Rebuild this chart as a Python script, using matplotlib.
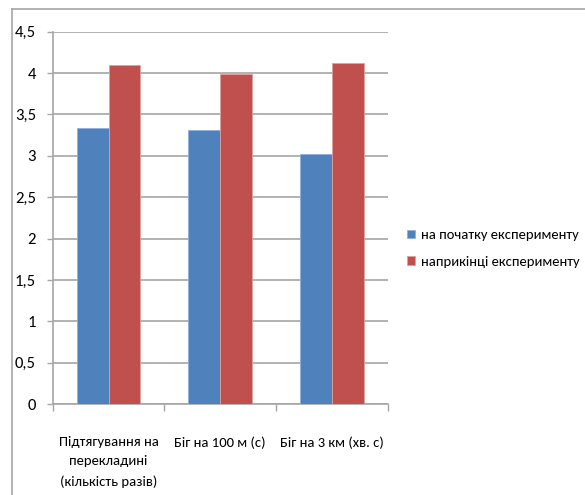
import matplotlib
matplotlib.use("Agg")
import matplotlib.pyplot as plt
import numpy as np
from matplotlib.lines import Line2D
from matplotlib.ticker import FuncFormatter
from matplotlib import font_manager

categories = ["Підтягування на\nперекладині\n(кількість разів)", "Біг на 100 м (с)", "Біг на 3 км (хв. с)"]
series_names = ["на початку експерименту", "наприкінці експерименту"]
start_values = [3.34, 3.31, 3.02]
end_values = [4.10, 3.99, 4.12]
yticks = [0, 0.5, 1, 1.5, 2, 2.5, 3, 3.5, 4, 4.5]

avail = {f.name for f in font_manager.fontManager.ttflist}
fams = [f for f in ['Carlito', 'Liberation Sans Narrow', 'Roboto Condensed', 'Roboto', 'DejaVu Sans'] if f in avail]
plt.rcParams['font.family'] = fams

fig = plt.figure(figsize=(5.85, 4.95), dpi=100)
ax = fig.add_axes([0.0901, 0.1838, 0.5726, 0.7522])

x = np.arange(len(categories))
w = 0.286
ax.bar(x - w/2, start_values, w, color="#4F81BD", edgecolor="#8FB0DA", linewidth=0.6, zorder=3, label=series_names[0])
ax.bar(x + w/2, end_values, w, color="#C0504D", edgecolor="#E0A0A0", linewidth=0.6, zorder=3, label=series_names[1])

ax.set_xlim(-0.5, 2.5)
ax.set_ylim(0, 4.5)
ax.set_yticks(yticks)
ax.yaxis.set_major_formatter(FuncFormatter(lambda v, p: ("%g" % v).replace(".", ",")))
ax.yaxis.grid(True, color="#A6A6A6", linewidth=1.2, zorder=0)
ax.set_axisbelow(True)

ax.set_xticks(x)
ax.set_xticklabels(categories, fontsize=10.5, linespacing=1.75)
ax.set_xticks([-0.5, 0.5, 1.5, 2.5], minor=True)
ax.tick_params(axis='x', which='major', length=0, pad=23)
ax.tick_params(axis='x', which='minor', length=5, color="#A6A6A6", width=1)
ax.tick_params(axis='y', length=4, color="#A6A6A6", width=1, labelsize=12, pad=8)

for s in ["top", "right"]:
    ax.spines[s].set_visible(False)
for s in ["left", "bottom"]:
    ax.spines[s].set_color("#A6A6A6")
    ax.spines[s].set_linewidth(1.2)

leg = ax.legend(loc="center left", bbox_to_anchor=(0.695, 0.498), bbox_transform=fig.transFigure,
                frameon=False, fontsize=10.5, handlelength=0.55, handleheight=0.55,
                handletextpad=0.45, labelspacing=1.0, borderaxespad=0, borderpad=0)

# outer chart frame (top and left edges visible)
fig.add_artist(Line2D([12/585, 1.0], [1 - 9/495, 1 - 9/495], color="#A6A6A6", linewidth=1.2, transform=fig.transFigure))
fig.add_artist(Line2D([12/585, 12/585], [0, 1 - 9/495], color="#A6A6A6", linewidth=1.2, transform=fig.transFigure))

fig.savefig("out.png", dpi=100)
